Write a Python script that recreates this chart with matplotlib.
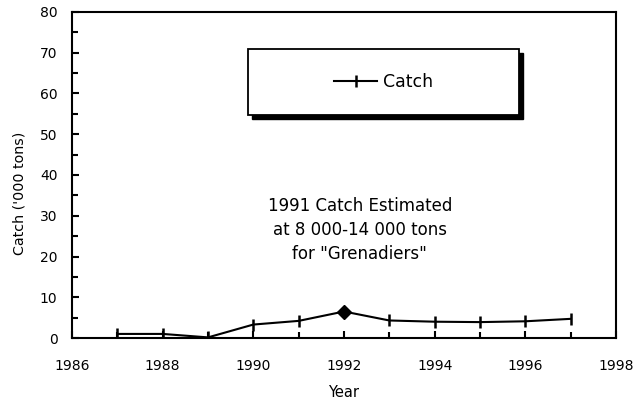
import matplotlib
matplotlib.use("Agg")
from matplotlib import pyplot as plt
from matplotlib.patches import Rectangle
from matplotlib.ticker import MultipleLocator
import numpy as np

years = [1987, 1988, 1989, 1990, 1991, 1992, 1993, 1994, 1995, 1996, 1997]
catch = [1.0, 1.0, 0.15, 3.3, 4.2, 6.5, 4.3, 4.0, 3.9, 4.1, 4.7]
highlight_year = 1992
note = '1991 Catch Estimated\nat 8 000-14 000 tons\nfor "Grenadiers"'

plt.rcParams['font.family'] = ['DejaVu Sans']

fig = plt.figure(figsize=(6.34, 4.04), dpi=100)
ax = fig.add_axes([72/634, 1 - 338/404, 544/634, 326/404])

ax.plot(years, catch, c='k', lw=1.5, marker='|', ms=8.5, mew=1.8,
        label='Catch')
i = years.index(highlight_year)
ax.plot(years[i], catch[i], ls='none', marker='D', ms=7, c='k')

ax.set_xlim(1986, 1998)
ax.set_ylim(0, 80)
ax.xaxis.set_major_locator(MultipleLocator(2))
ax.xaxis.set_minor_locator(MultipleLocator(1))
ax.yaxis.set_major_locator(MultipleLocator(10))
ax.yaxis.set_minor_locator(MultipleLocator(5))
ax.tick_params(which='both', direction='in', width=1.5, labelsize=10,
               top=False, right=False)
ax.tick_params(which='major', length=5)
ax.tick_params(which='minor', length=4)
ax.tick_params(axis='y', which='major', pad=10.5)
ax.tick_params(axis='x', which='major', pad=15)
for s in ax.spines.values():
    s.set_linewidth(1.5)

ax.set_xlabel('Year', fontsize=10.5, labelpad=9)
ax.set_ylabel("Catch ('000 tons)", fontsize=10.3)
ax.yaxis.set_label_coords(-0.083, 0.445)

# legend box with a solid drop shadow
x0, y0, w, h = 0.3235, 0.684, 0.498, 0.2025
ax.add_patch(Rectangle((x0 + 0.0074, y0 - 0.0123), w, h, transform=ax.transAxes,
                       fc='k', ec='k', zorder=3))
ax.add_patch(Rectangle((x0, y0), w, h, transform=ax.transAxes,
                       fc='white', ec='k', lw=1.3, zorder=4))
leg = ax.legend(loc='center', bbox_to_anchor=(x0 + w/2, y0 + h/2),
                frameon=False, fontsize=12.5, handlelength=2.5,
                handletextpad=0.3)
leg.set_zorder(5)

ax.text(0.529, 0.331, note, transform=ax.transAxes, ha='center', va='center',
        fontsize=12, linespacing=1.45)

fig.savefig('out.png', dpi=100)
